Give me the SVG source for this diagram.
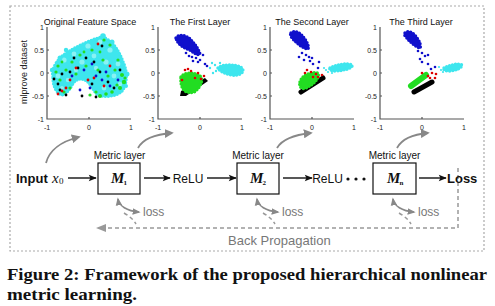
<svg xmlns="http://www.w3.org/2000/svg" width="495" height="306" viewBox="0 0 495 306">
<style>
.ax{stroke:#555;stroke-width:1.2;fill:none}
.tk{font-family:"Liberation Sans",Arial,sans-serif;font-size:7px;fill:#222}
.tt{font-family:"Liberation Sans",Arial,sans-serif;font-size:9px;fill:#111;text-anchor:middle}
.c{fill:#3ee6ee}.c2{fill:#8af2f4}.b{fill:#1010cc}.g{fill:#22dd22}.k{fill:#000}.r{fill:#dd0000}
.blob{stroke-width:3.5;stroke-dasharray:0 3;stroke-linecap:round;stroke-linejoin:round}
.lbl{font-family:"Liberation Sans",Arial,sans-serif;fill:#111}
.box{fill:#fff;stroke:#111;stroke-width:1.2}
.arr{stroke:#111;stroke-width:1.4;fill:none;marker-end:url(#ah)}
.garr{stroke:#888;stroke-width:1.8;fill:none;marker-end:url(#gah)}
.loss{stroke:#888;stroke-width:1.6;fill:none;marker-start:url(#gah2);marker-end:url(#gah2)}
.dsh{stroke:#999;stroke-width:1.5;fill:none;stroke-dasharray:4 3}
.gt{font-family:"Liberation Sans",Arial,sans-serif;fill:#777}
.m{font-family:"Liberation Serif","Times New Roman",serif;font-weight:bold;font-style:italic;fill:#111}
.sub{font-family:"Liberation Serif","Times New Roman",serif;font-weight:bold;fill:#111;font-size:7px}
</style>
<defs>
<marker id="ah" viewBox="0 0 10 10" refX="9" refY="5" markerWidth="9" markerHeight="8" markerUnits="userSpaceOnUse" orient="auto"><path d="M0,1 L10,5 L0,9 L2,5 Z" fill="#111"/></marker>
<marker id="gah" viewBox="0 0 10 10" refX="8" refY="5" markerWidth="9" markerHeight="9" markerUnits="userSpaceOnUse" orient="auto"><path d="M0,0 L10,5 L0,10 Z" fill="#888"/></marker>
<marker id="gah2" viewBox="0 0 10 10" refX="8" refY="5" markerWidth="8" markerHeight="8" markerUnits="userSpaceOnUse" orient="auto-start-reverse"><path d="M0,1 L10,5 L0,9 Z" fill="#888"/></marker>
</defs>
<rect width="495" height="306" fill="#fff"/>
<rect x="10" y="6" width="474" height="245" fill="none" stroke="#aaa" stroke-width="1.2" stroke-dasharray="2 2"/>

<!-- Plot 1 -->
<g id="plot1">
<text class="tt" x="90" y="24.5">Original Feature Space</text>
<text x="27" y="72" transform="rotate(-90 27 72)" font-family="Liberation Sans,Arial,sans-serif" font-size="9" fill="#222" text-anchor="middle">mlprove dataset</text>
<path class="ax" d="M47,27 V119 H131"/>
<path class="ax" d="M47,50 h2 M47,73 h2 M47,96 h2 M89,119 v-2"/>
<g class="tk" text-anchor="end"><text x="44" y="29.5">1</text><text x="44" y="52.5">0.5</text><text x="44" y="75.5">0</text><text x="44" y="98.5">-0.5</text><text x="44" y="121.5">-1</text></g>
<g class="tk" text-anchor="middle"><text x="47" y="130">-1</text><text x="89" y="130">0</text><text x="131" y="130">1</text></g>
<path class="c" d="M53,77 C51,68 58,58 68,52 C78,46 90,40 102,37 C110,39 118,48 123,62 C128,72 127,86 121,92 C114,97 104,97 98,95 C94,92 92,86 88,82 C84,78 78,78 74,82 C70,88 68,93 62,95 C56,93 53,86 53,77 Z"/>
<path class="c blob" stroke="#3ee6ee" d="M53,77 C51,68 58,58 68,52 C78,46 90,40 102,37 C110,39 118,48 123,62 C128,72 127,86 121,92 C114,97 104,97 98,95 C94,92 92,86 88,82 C84,78 78,78 74,82 C70,88 68,93 62,95 C56,93 53,86 53,77 Z"/>
<g class="c2"><circle cx="64" cy="60" r="2.6"/><circle cx="74" cy="54" r="2.4"/><circle cx="88" cy="46" r="2.6"/><circle cx="100" cy="42" r="2.4"/><circle cx="110" cy="50" r="2.6"/><circle cx="118" cy="64" r="2.4"/><circle cx="58" cy="76" r="2.4"/><circle cx="68" cy="80" r="2.2"/><circle cx="82" cy="62" r="2.6"/><circle cx="94" cy="56" r="2.4"/><circle cx="106" cy="62" r="2.6"/><circle cx="114" cy="76" r="2.4"/><circle cx="104" cy="88" r="2.4"/><circle cx="96" cy="68" r="2.2"/><circle cx="76" cy="70" r="2.2"/><circle cx="120" cy="84" r="2.2"/><circle cx="62" cy="88" r="2"/></g>
<g class="c"><circle cx="103" cy="36" r="2.8"/><circle cx="60" cy="58" r="2.5"/><circle cx="127" cy="74" r="2.5"/><circle cx="66" cy="50" r="2.2"/><circle cx="112" cy="42" r="2.5"/><circle cx="52" cy="70" r="2.2"/><circle cx="126" cy="86" r="2"/></g>
<g class="g"><circle cx="56" cy="72" r="1.6"/><circle cx="60" cy="80" r="1.6"/><circle cx="66" cy="70" r="1.6"/><circle cx="72" cy="62" r="1.6"/><circle cx="80" cy="55" r="1.6"/><circle cx="92" cy="50" r="1.6"/><circle cx="104" cy="40" r="1.6"/><circle cx="110" cy="45" r="1.6"/><circle cx="118" cy="60" r="1.6"/><circle cx="122" cy="75" r="2"/><circle cx="124" cy="82" r="2.2"/><circle cx="120" cy="88" r="2"/><circle cx="112" cy="92" r="1.8"/><circle cx="100" cy="96" r="2"/><circle cx="96" cy="92" r="1.6"/><circle cx="70" cy="88" r="1.6"/><circle cx="64" cy="92" r="1.6"/><circle cx="86" cy="66" r="1.6"/><circle cx="98" cy="70" r="1.6"/><circle cx="108" cy="76" r="1.6"/><circle cx="76" cy="74" r="1.6"/><circle cx="58" cy="66" r="1.6"/><circle cx="115" cy="70" r="1.6"/><circle cx="103" cy="60" r="1.6"/><circle cx="125" cy="78" r="1.6"/><circle cx="117" cy="85" r="1.6"/><circle cx="90" cy="95" r="1.6"/><circle cx="106" cy="94" r="1.8"/><circle cx="84" cy="52" r="1.4"/><circle cx="62" cy="62" r="1.4"/><circle cx="100" cy="52" r="1.4"/></g>
<g class="k"><circle cx="54" cy="79" r="1.4"/><circle cx="58" cy="84" r="1.4"/><circle cx="62" cy="74" r="1.4"/><circle cx="70" cy="72" r="1.4"/><circle cx="78" cy="68" r="1.4"/><circle cx="86" cy="58" r="1.4"/><circle cx="94" cy="62" r="1.4"/><circle cx="100" cy="72" r="1.4"/><circle cx="108" cy="82" r="1.4"/><circle cx="114" cy="88" r="1.4"/><circle cx="82" cy="96" r="1.4"/><circle cx="60" cy="90" r="1.4"/><circle cx="66" cy="95" r="1.4"/><circle cx="92" cy="84" r="1.4"/><circle cx="120" cy="70" r="1.4"/><circle cx="102" cy="46" r="1.4"/><circle cx="74" cy="58" r="1.4"/><circle cx="96" cy="97" r="1.4"/></g>
<g class="r"><circle cx="62" cy="91" r="1.4"/><circle cx="66" cy="88" r="1.4"/><circle cx="88" cy="80" r="1.4"/><circle cx="94" cy="78" r="1.4"/><circle cx="104" cy="86" r="1.4"/><circle cx="76" cy="68" r="1.4"/><circle cx="70" cy="80" r="1.4"/><circle cx="110" cy="66" r="1.4"/><circle cx="98" cy="44" r="1.4"/><circle cx="58" cy="94" r="1.4"/></g>
<g class="b"><circle cx="84" cy="70" r="1.4"/><circle cx="96" cy="76" r="1.4"/><circle cx="102" cy="80" r="1.4"/><circle cx="106" cy="72" r="1.4"/><circle cx="90" cy="88" r="1.4"/><circle cx="110" cy="86" r="1.4"/><circle cx="80" cy="90" r="1.4"/><circle cx="92" cy="64" r="1.4"/><circle cx="72" cy="76" r="1.4"/><circle cx="118" cy="80" r="1.4"/></g>
</g>

<!-- Plot 2 -->
<g id="plot2">
<text class="tt" x="200" y="24.5">The First Layer</text>
<path class="ax" d="M158,27 V119 H242"/>
<path class="ax" d="M158,50 h2 M158,73 h2 M158,96 h2 M200,119 v-2"/>
<g class="tk" text-anchor="end"><text x="155" y="29.5">1</text><text x="155" y="52.5">0.5</text><text x="155" y="75.5">0</text><text x="155" y="98.5">-0.5</text><text x="155" y="121.5">-1</text></g>
<g class="tk" text-anchor="middle"><text x="158" y="130">-1</text><text x="200" y="130">0</text><text x="242" y="130">1</text></g>
<path class="b" d="M176,38 C178,34 186,35 190,39 C194,43 198,48 200,54 C198,56 194,53 190,50 C184,48 178,45 176,38 Z"/>
<path class="b blob" stroke="#1010cc" d="M176,38 C178,34 186,35 190,39 C194,43 198,48 200,54 C198,56 194,53 190,50 C184,48 178,45 176,38 Z"/>
<g class="b"><circle cx="196" cy="58" r="1.3"/><circle cx="200" cy="60" r="1.3"/><circle cx="192" cy="57" r="1.3"/><circle cx="205" cy="64" r="1.3"/><circle cx="198" cy="62" r="1.3"/><circle cx="186" cy="53" r="1.3"/><circle cx="203" cy="55" r="1.3"/><circle cx="193" cy="61" r="1.3"/><circle cx="207" cy="66" r="1.3"/><circle cx="189" cy="56" r="1.3"/></g>
<path class="c" d="M218,68 C222,64 236,64 242,68 C245,72 240,76 232,75 C226,74 220,72 218,68 Z"/>
<path class="c blob" stroke="#3ee6ee" d="M218,68 C222,64 236,64 242,68 C245,72 240,76 232,75 C226,74 220,72 218,68 Z"/>
<g class="c"><circle cx="212" cy="63" r="1.2"/><circle cx="215" cy="65" r="1.2"/><circle cx="210" cy="68" r="1.2"/><circle cx="216" cy="71" r="1.2"/><circle cx="220" cy="63" r="1.2"/><circle cx="213" cy="73" r="1.2"/></g>
<path class="k" d="M181,91 L205,78 L208,81 L186,96 L180,96 Z"/>
<path class="g" d="M181,77 C184,72 194,72 200,76 C204,80 200,88 194,92 C186,94 180,90 181,77 Z"/>
<path class="g blob" stroke="#22dd22" d="M181,77 C184,72 194,72 200,76 C204,80 200,88 194,92 C186,94 180,90 181,77 Z"/>
<g class="r"><circle cx="185" cy="70" r="1.3"/><circle cx="191" cy="71" r="1.3"/><circle cx="198" cy="73" r="1.3"/><circle cx="204" cy="76" r="1.3"/><circle cx="182" cy="80" r="1.3"/><circle cx="195" cy="78" r="1.3"/><circle cx="188" cy="69" r="1.3"/><circle cx="201" cy="79" r="1.3"/></g>
</g>

<!-- Plot 3 -->
<g id="plot3">
<text class="tt" x="312" y="24.5">The Second Layer</text>
<path class="ax" d="M270,27 V119 H354"/>
<path class="ax" d="M270,50 h2 M270,73 h2 M270,96 h2 M312,119 v-2"/>
<g class="tk" text-anchor="end"><text x="267" y="29.5">1</text><text x="267" y="52.5">0.5</text><text x="267" y="75.5">0</text><text x="267" y="98.5">-0.5</text><text x="267" y="121.5">-1</text></g>
<g class="tk" text-anchor="middle"><text x="270" y="130">-1</text><text x="312" y="130">0</text><text x="354" y="130">1</text></g>
<path class="b" d="M291,33 C294,30 300,32 304,38 C307,42 309,46 308,49 C304,49 298,44 294,40 C291,37 290,35 291,33 Z"/>
<path class="b blob" stroke="#1010cc" d="M291,33 C294,30 300,32 304,38 C307,42 309,46 308,49 C304,49 298,44 294,40 C291,37 290,35 291,33 Z"/>
<g class="b"><circle cx="302" cy="53" r="1.3"/><circle cx="306" cy="55" r="1.3"/><circle cx="309" cy="57" r="1.3"/><circle cx="304" cy="60" r="1.3"/><circle cx="312" cy="58" r="1.3"/><circle cx="313" cy="64" r="1.3"/><circle cx="318" cy="68" r="1.3"/><circle cx="310" cy="61" r="1.3"/><circle cx="299" cy="57" r="1.3"/><circle cx="319" cy="62" r="1.3"/></g>
<path class="c" d="M330,68 C338,64 348,63 352,65 C353,68 346,70 336,71 C332,71 329,70 330,68 Z"/>
<path class="c blob" stroke="#3ee6ee" stroke-width="3" d="M330,68 C338,64 348,63 352,65 C353,68 346,70 336,71 C332,71 329,70 330,68 Z"/>
<g class="c"><circle cx="326" cy="70" r="1.1"/><circle cx="328" cy="72" r="1.1"/><circle cx="324" cy="68" r="1.1"/><circle cx="332" cy="73" r="1.1"/></g>
<path d="M301,92 L323,78" stroke="#000" stroke-width="5" stroke-linecap="round"/>
<path class="g" d="M300,82 C302,75 310,72 318,73 C320,78 314,84 306,88 C301,90 299,86 300,82 Z"/>
<path class="g blob" stroke="#22dd22" d="M300,82 C302,75 310,72 318,73 C320,78 314,84 306,88 C301,90 299,86 300,82 Z"/>
<g class="r"><circle cx="307" cy="70" r="1.3"/><circle cx="311" cy="72" r="1.3"/><circle cx="316" cy="74" r="1.3"/><circle cx="318" cy="77" r="1.3"/><circle cx="322" cy="75" r="1.3"/><circle cx="313" cy="77" r="1.3"/><circle cx="305" cy="73" r="1.3"/></g>
</g>

<!-- Plot 4 -->
<g id="plot4">
<text class="tt" x="421" y="24.5">The Third Layer</text>
<path class="ax" d="M380,27 V119 H464"/>
<path class="ax" d="M380,50 h2 M380,73 h2 M380,96 h2 M422,119 v-2"/>
<g class="tk" text-anchor="end"><text x="377" y="29.5">1</text><text x="377" y="52.5">0.5</text><text x="377" y="75.5">0</text><text x="377" y="98.5">-0.5</text><text x="377" y="121.5">-1</text></g>
<g class="tk" text-anchor="middle"><text x="380" y="130">-1</text><text x="422" y="130">0</text><text x="464" y="130">1</text></g>
<path class="b" d="M405,33 C408,30 414,33 417,38 C420,42 421,46 420,48 C416,47 410,42 407,38 C405,36 404,35 405,33 Z"/>
<path class="b blob" stroke="#1010cc" d="M405,33 C408,30 414,33 417,38 C420,42 421,46 420,48 C416,47 410,42 407,38 C405,36 404,35 405,33 Z"/>
<g class="b"><circle cx="418" cy="51" r="1.3"/><circle cx="422" cy="53" r="1.3"/><circle cx="425" cy="56" r="1.3"/><circle cx="420" cy="59" r="1.3"/><circle cx="428" cy="55" r="1.3"/><circle cx="422" cy="62" r="1.3"/><circle cx="431" cy="69" r="1.3"/><circle cx="435" cy="67" r="1.3"/><circle cx="428" cy="64" r="1.3"/></g>
<path class="c" d="M444,68 C450,65 458,63 462,65 C462,68 456,70 450,71 C446,71 443,70 444,68 Z"/>
<path class="c blob" stroke="#3ee6ee" stroke-width="3" d="M444,68 C450,65 458,63 462,65 C462,68 456,70 450,71 C446,71 443,70 444,68 Z"/>
<g class="c"><circle cx="441" cy="70" r="1.1"/><circle cx="439" cy="67" r="1.1"/><circle cx="443" cy="72" r="1.1"/></g>
<path d="M414,92 L432,82" stroke="#000" stroke-width="5" stroke-linecap="round"/>
<path d="M411,86 L426,75" stroke="#22dd22" stroke-width="6" stroke-linecap="round"/>
<g class="r"><circle cx="428" cy="76" r="1.3"/><circle cx="432" cy="73" r="1.3"/><circle cx="436" cy="74" r="1.3"/><circle cx="430" cy="78" r="1.3"/><circle cx="422" cy="73" r="1.3"/><circle cx="435" cy="78" r="1.3"/></g>
</g>

<!-- Connectors -->
<g id="connectors">
<path class="garr" d="M46,163 Q51,144 79,137"/>
<path class="garr" d="M138,148 Q145,135 172,133"/>
<path class="garr" d="M277,148 Q284,136 311,133"/>
<path class="garr" d="M397,148 Q404,135 428,133"/>
<path class="arr" d="M68,178 H96"/>
<path class="arr" d="M144,178 H170"/>
<path class="arr" d="M207,178 H236"/>
<path class="arr" d="M283,178 H312"/>
<path class="arr" d="M419,178 H446"/>
<path class="loss" d="M118,199 C119,206 127,211 139,212"/>
<path class="loss" d="M257,199 C258,206 266,211 278,212"/>
<path class="loss" d="M393,199 C394,206 402,211 414,212"/>
<path class="dsh" d="M124,213 C129,216 133,219 136,224"/>
<path class="dsh" d="M263,213 C268,216 272,219 275,224"/>
<path class="dsh" d="M399,213 C404,216 408,219 411,224"/>
<path class="dsh" d="M458,168 V228 H103"/>
<path d="M96,228 L106,224 L106,232 Z" fill="#999"/>
</g>

<!-- Nodes -->
<g id="input"><text class="lbl" x="16" y="183" font-size="13" font-weight="bold">Input</text><text x="52" y="183" font-family="Liberation Serif,Times New Roman,serif" font-style="italic" font-size="15" fill="#111">x</text><text x="59" y="184" font-family="Liberation Serif,Times New Roman,serif" font-size="9" fill="#111">0</text></g>
<g id="m1"><text class="lbl" x="119.5" y="159" font-size="10" text-anchor="middle">Metric layer</text><rect class="box" x="98" y="163" width="42" height="31"/><text class="m" x="111" y="183" font-size="15">M</text><text class="sub" x="123.5" y="185">1</text></g>
<g id="relu1"><text class="lbl" x="188" y="182.5" font-size="12" text-anchor="middle">ReLU</text></g>
<g id="m2"><text class="lbl" x="258" y="159" font-size="10" text-anchor="middle">Metric layer</text><rect class="box" x="237" y="163" width="42" height="31"/><text class="m" x="250" y="183" font-size="15">M</text><text class="sub" x="262.5" y="185">2</text></g>
<g id="relu2"><text class="lbl" x="327.5" y="182.5" font-size="12" text-anchor="middle">ReLU</text><circle cx="348" cy="179" r="1.6" fill="#111"/><circle cx="356" cy="179" r="1.6" fill="#111"/><circle cx="364" cy="179" r="1.6" fill="#111"/></g>
<g id="mn"><text class="lbl" x="394.5" y="159" font-size="10" text-anchor="middle">Metric layer</text><rect class="box" x="373" y="163" width="43" height="31"/><text class="m" x="387" y="183" font-size="15">M</text><text class="sub" x="399.5" y="185">n</text></g>
<g id="lossnode"><text class="lbl" x="447" y="183" font-size="13" font-weight="bold">Loss</text></g>
<g id="loss1"><text class="gt" x="143" y="215.5" font-size="12">loss</text></g>
<g id="loss2"><text class="gt" x="282" y="215.5" font-size="12">loss</text></g>
<g id="loss3"><text class="gt" x="418" y="215.5" font-size="12">loss</text></g>
<g id="bp"><text class="gt" x="228" y="244.5" font-size="13">Back Propagation</text></g>

<g id="caption" font-family="Liberation Serif,Times New Roman,serif" font-weight="bold" fill="#111" font-size="17">
<text x="7" y="280" textLength="480" lengthAdjust="spacingAndGlyphs">Figure 2: Framework of the proposed hierarchical nonlinear</text>
<text x="7" y="300" textLength="130" lengthAdjust="spacingAndGlyphs">metric learning.</text>
</g>
</svg>
